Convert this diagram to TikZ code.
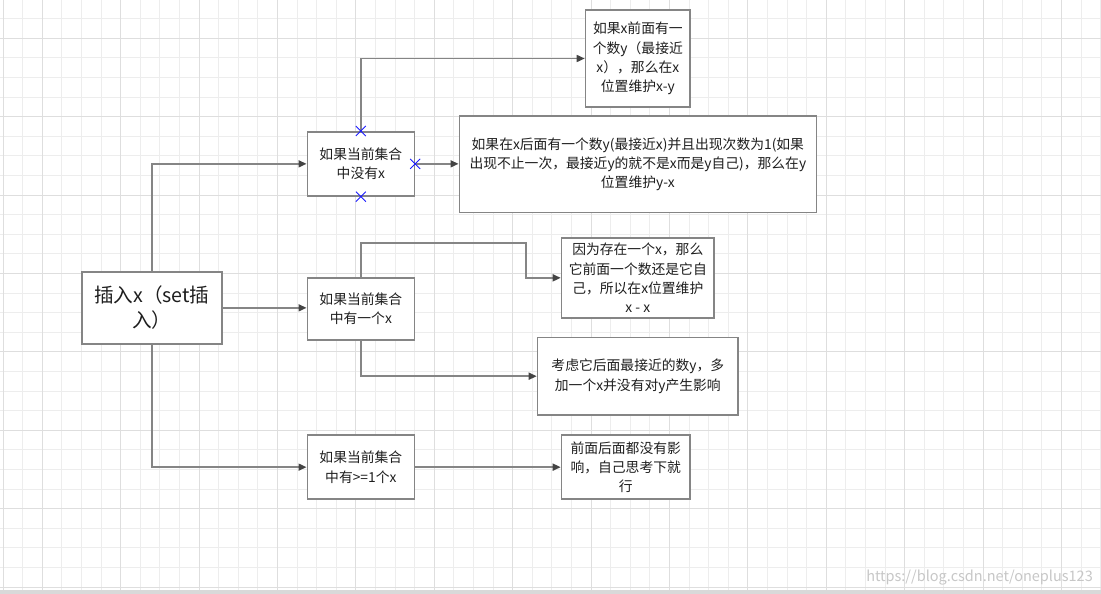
\documentclass[tikz,border=0pt]{standalone}
\usepackage{fontspec}
\setmainfont{Noto Sans CJK SC}
\usetikzlibrary{arrows.meta}
\definecolor{gridminor}{HTML}{EDEDED}
\definecolor{gridmajor}{HTML}{DEDEDE}
\definecolor{boxline}{HTML}{858585}
\definecolor{txt}{HTML}{1E1E1E}
\definecolor{tipc}{HTML}{444444}
\definecolor{markblue}{HTML}{1A1AFF}
\begin{document}
\begin{tikzpicture}[x=1pt,y=-1pt,
  box/.style={draw=boxline, line width=1.7pt, fill=white, align=center, text=txt,
    font=\fontsize{13.8}{19.3}\selectfont, inner sep=0pt, anchor=north west},
  conn/.style={draw=boxline, line width=1.6pt,
    -{Triangle[length=8pt,width=7pt,fill=tipc,color=tipc]}},
  xmark/.style={draw=markblue, line width=0.9pt}]
\useasboundingbox (0,0) rectangle (1101,594);
\fill[white] (0,0) rectangle (1101,594);
% grid
\foreach \i in {0,...,56} {
  \draw[gridminor, line width=1pt] ({3.1+19.6*\i},0) -- ({3.1+19.6*\i},589.5);
}
\foreach \j in {1,...,30} {
  \draw[gridminor, line width=1pt] (0,{-0.9+19.6*\j}) -- (1101,{-0.9+19.6*\j});
}
\foreach \i in {2,6,...,54} {
  \draw[gridmajor, line width=1pt] ({3.1+19.6*\i},0) -- ({3.1+19.6*\i},589.5);
}
\foreach \j in {2,6,...,30} {
  \draw[gridmajor, line width=1pt] (0,{-0.9+19.6*\j}) -- (1101,{-0.9+19.6*\j});
}
\draw[gridmajor, line width=1.2pt] (3.1,0) -- (3.1,589.5);
\fill[black!15] (0,589.5) rectangle (1101,594);
% watermark
\node[anchor=east, text=black!22, font=\fontsize{14.5}{16}\selectfont, inner sep=0pt] (wm) at (1093,578) {https://blog.csdn.net/oneplus123};
% boxes
\node[box, minimum width=140pt, minimum height=72pt, font=\fontsize{19.6}{25}\selectfont] (root) at (81,271) {插入x（set插\\入）};
\node[box, minimum width=107pt, minimum height=64pt] (b1) at (306.5,131) {如果当前集合\\中没有x};
\node[box, minimum width=107pt, minimum height=62pt] (b2) at (306.5,277) {如果当前集合\\中有一个x};
\node[box, minimum width=107pt, minimum height=64pt] (b3) at (306.5,434.3) {如果当前集合\\中有>=1个x};
\node[box, minimum width=104.6pt, minimum height=96.7pt] (top) at (584.7,9.3) {如果x前面有一\\个数y（最接近\\x），那么在x\\位置维护x-y};
\node[box, minimum width=357pt, minimum height=96.7pt] (big) at (458.5,115) {如果在x后面有一个数y(最接近x)并且出现次数为1(如果\\出现不止一次，最接近y的就不是x而是y自己)，那么在y\\位置维护y-x};
\node[box, minimum width=152.5pt, minimum height=80pt] (c2a) at (560.7,237) {因为存在一个x，那么\\它前面一个数还是它自\\己，所以在x位置维护\\x - x};
\node[box, minimum width=200.6pt, minimum height=77.3pt] (c2b) at (536.7,336.7) {考虑它后面最接近的数y，多\\加一个x并没有对y产生影响};
\node[box, minimum width=128.3pt, minimum height=64pt] (c3) at (560.7,434.3) {前面后面都没有影\\响，自己思考下就\\行};
% connectors
\draw[conn] (root.north) |- (b1.west);
\draw[conn] (root.east) -- (root.east -| b2.west);
\draw[conn] (root.south) |- (b3.west);
\draw[conn] (b1.north) |- (top.west);
\draw[conn] (b1.east) -- (b1.east -| big.west);
\coordinate (k1) at (526,243);
\draw[conn] (b2.north) |- (k1) |- (c2a.west);
\draw[conn] (b2.south) |- (c2b.west);
\draw[conn] (b3.east) -- (b3.east -| c3.west);
% blue markers
\foreach \p in {b1.north, b1.east, b1.south} {
  \draw[xmark] ([shift={(-5,-5)}]\p) -- ([shift={(5,5)}]\p);
  \draw[xmark] ([shift={(-5,5)}]\p) -- ([shift={(5,-5)}]\p);
}
\end{tikzpicture}
\end{document}
